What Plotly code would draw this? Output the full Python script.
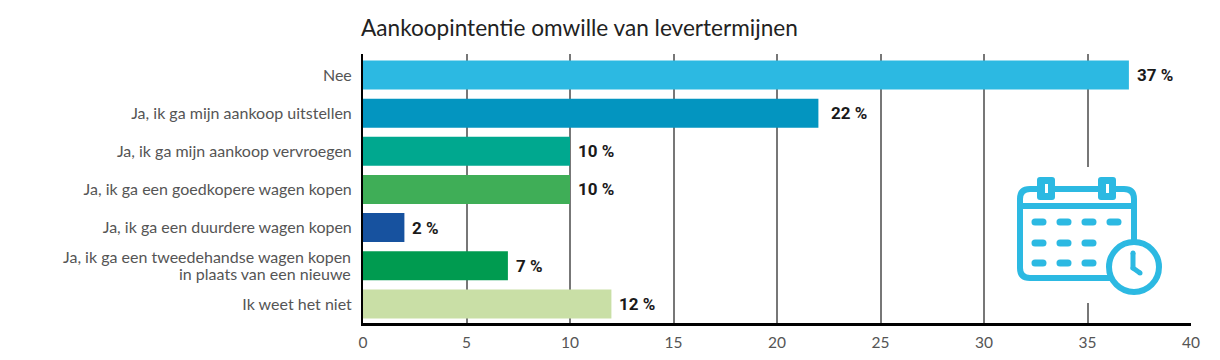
import plotly.graph_objects as go

categories = ["Nee", "Ja, ik ga mijn aankoop uitstellen", "Ja, ik ga mijn aankoop vervroegen",
              "Ja, ik ga een goedkopere wagen kopen", "Ja, ik ga een duurdere wagen kopen",
              "Ja, ik ga een tweedehandse wagen kopen in plaats van een nieuwe", "Ik weet het niet"]
wrapped = {"Ja, ik ga een tweedehandse wagen kopen in plaats van een nieuwe":
           ["Ja, ik ga een tweedehandse wagen kopen", "in plaats van een nieuwe"]}
values = [37, 22, 10, 10, 2, 7, 12]
colors = ["#2cb9e2", "#0395c0", "#00a88f", "#3fae57", "#17529f", "#009b50", "#c9dfa6"]
x_ticks = [0, 5, 10, 15, 20, 25, 30, 35, 40]
title_text = "Aankoopintentie omwille van levertermijnen"

W, H = 1220, 360
L, R, T, B = 363, 1191, 54, 323
ICON = "#2cb9e2"
LABEL_FONT = dict(family="Lato", size=16, color="#555")
GAPS = [6, 11, 6, 6, 6, 6, 6]


def px(x):
    return (x - L) / (R - L)


def py(y):
    return (B - y) / (B - T)


def pt(x, y):
    return f"{px(x):.5f},{py(y):.5f}"


def rounded(x0, y0, x1, y1, r):
    return (f"M{pt(x0 + r, y0)} L{pt(x1 - r, y0)} Q{pt(x1, y0)} {pt(x1, y0 + r)} "
            f"L{pt(x1, y1 - r)} Q{pt(x1, y1)} {pt(x1 - r, y1)} L{pt(x0 + r, y1)} "
            f"Q{pt(x0, y1)} {pt(x0, y1 - r)} L{pt(x0, y0 + r)} Q{pt(x0, y0)} {pt(x0 + r, y0)} Z")


def shape_path(p, fill=None, width=0):
    return dict(type="path", xref="paper", yref="paper", path=p,
                fillcolor=fill if fill else "rgba(0,0,0,0)",
                line=dict(color=ICON, width=width))


def circle(cx, cy, r, fill, width=0):
    return dict(type="circle", xref="paper", yref="paper", x0=px(cx - r), x1=px(cx + r),
                y0=py(cy + r), y1=py(cy - r), fillcolor=fill, line=dict(color=ICON, width=width))


fig = go.Figure(go.Bar(x=values, y=categories, orientation="h", marker=dict(color=colors, line_width=0),
                       hoverinfo="x+y", width=0.76))

for v, c, g in zip(values, categories, GAPS):
    fig.add_annotation(x=v, y=c, text=f"<b>{v} %</b>", showarrow=False, xanchor="left", xshift=g,
                       font=dict(family="Roboto", size=17, color="#1a1a1a"))
for c, lines in wrapped.items():
    for txt, shift in zip(lines, (9, -8)):
        fig.add_annotation(x=0, y=c, text=txt, showarrow=False, xanchor="right", xshift=-10, yshift=shift,
                           font=LABEL_FONT)

shapes = []
# white patch interrupting the 35 gridline behind the icon
shapes.append(dict(type="rect", xref="paper", yref="paper", x0=px(1080), x1=px(1095), y0=py(303), y1=py(167),
                   fillcolor="white", line_width=0))
# calendar outline
shapes.append(shape_path(rounded(1020, 189, 1134, 278, 10), width=6))
shapes.append(shape_path(f"M{pt(1018, 206)} L{pt(1136, 206)}", width=6))
# rings
for x0 in (1037, 1098):
    shapes.append(shape_path(rounded(x0, 177, x0 + 18, 200, 3), fill=ICON))
    shapes.append(dict(type="rect", xref="paper", yref="paper", x0=px(x0 + 8), x1=px(x0 + 11), y0=py(193), y1=py(184),
                       fillcolor="white", line_width=0))
# date dots
for y, cols in ((222, (1039, 1064, 1089, 1114)), (243, (1039, 1064, 1089)), (263, (1039, 1064, 1089))):
    for x in cols:
        shapes.append(shape_path(rounded(x - 7.5, y - 3.5, x + 7.5, y + 3.5, 3.5), fill=ICON))
# clock
shapes.append(circle(1134, 267, 25, "white", 6))
shapes.append(shape_path(f"M{pt(1133, 253)} L{pt(1133, 268)} L{pt(1140, 273)}", width=5))
for cx, cy in ((1133, 253), (1140, 273), (1133, 268)):
    shapes.append(circle(cx, cy, 2.5, ICON))

fig.update_layout(
    width=W, height=H, margin=dict(l=L, r=W - R, t=T, b=H - B, pad=0, autoexpand=False),
    paper_bgcolor="white", plot_bgcolor="white", showlegend=False, font=LABEL_FONT,
    title=dict(text=title_text, x=361 / W, xanchor="left", y=1 - 28 / H, yanchor="middle", automargin=False,
               font=dict(family="Lato", size=22.6, color="#222")),
    xaxis=dict(range=[0, 40], tickvals=x_ticks, showgrid=True, gridcolor="#777", gridwidth=1.5, zeroline=False,
               automargin=False,
               showline=True, linecolor="black", linewidth=3, ticks="outside", ticklen=3, tickcolor="rgba(0,0,0,0)",
               tickfont=dict(family="Lato", size=15.5, color="#555")),
    yaxis=dict(range=[6.5, -0.55], tickmode="array", tickvals=categories,
               ticktext=["" if c in wrapped else c for c in categories], automargin=False,
               showline=True, linecolor="black", linewidth=2, ticks="outside", ticklen=6,
               tickcolor="rgba(0,0,0,0)", tickfont=LABEL_FONT),
    shapes=shapes,
)
fig.write_html("out.html", post_script="document.body.style.margin='0';", config={"displayModeBar": False})
